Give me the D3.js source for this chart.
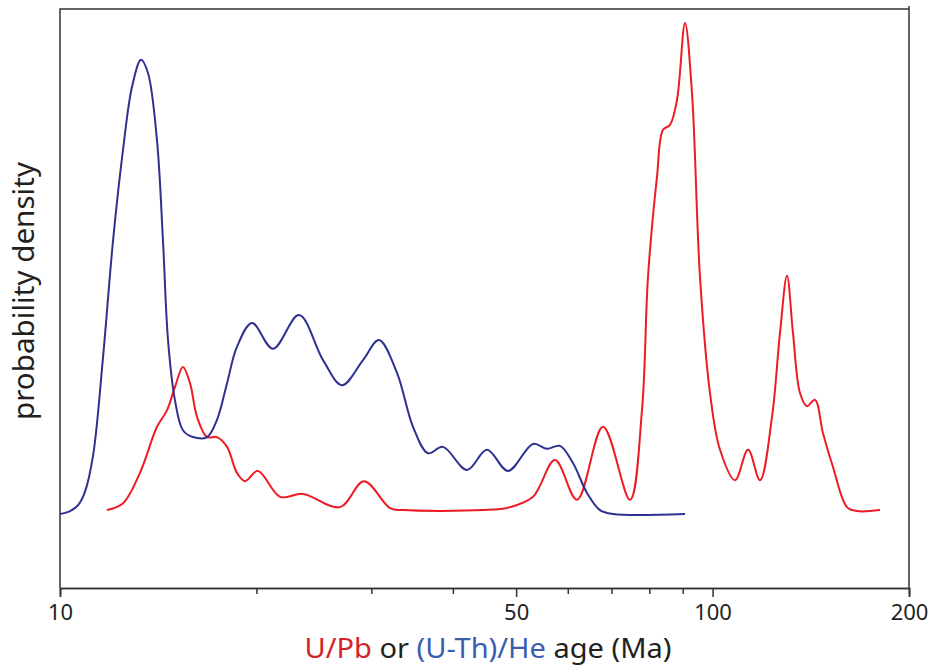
<!DOCTYPE html>
<html>
<head>
<meta charset="utf-8">
<script src="https://cdn.jsdelivr.net/npm/d3@7"></script>
<style>
  html, body { margin: 0; padding: 0; background: #fff; }
  #chart { width: 929px; height: 665px; }
  text { font-family: "Noto Sans", "Open Sans", sans-serif; fill: #231f20; }
</style>
</head>
<body>
<div id="chart"></div>
<script>
// (U-Th)/He ages, probability density (arbitrary units)
var heAge = [10.00, 10.36, 10.66, 10.92, 11.24, 11.64, 12.06, 12.49, 12.89, 13.31, 13.64,
  14.08, 14.38, 14.64, 15.00, 15.43, 15.99, 16.80, 17.40, 18.03, 18.67,
  19.69, 21.20, 23.24, 25.30, 27.05, 29.13, 30.82, 32.84, 34.75, 36.64,
  38.63, 42.04, 45.12, 48.59, 53.07, 55.76, 58.37, 61.11, 64.21, 67.22,
  70.38, 90.73];
var heDensity = [0, 0.006, 0.018, 0.045, 0.120, 0.320, 0.559, 0.743, 0.871, 0.927, 0.900,
  0.763, 0.559, 0.355, 0.233, 0.171, 0.157, 0.157, 0.192, 0.267, 0.341,
  0.390, 0.337, 0.406, 0.314, 0.263, 0.314, 0.355, 0.288, 0.178, 0.124,
  0.137, 0.090, 0.131, 0.088, 0.143, 0.133, 0.139, 0.104, 0.043, 0.008,
  0, 0];

// U/Pb ages, probability density (arbitrary units)
var pbAge = [11.80, 12.49, 13.26, 14.08, 14.59, 15.00, 15.43, 15.82, 16.22, 16.80,
  17.40, 18.03, 18.67, 19.21, 20.11, 21.74, 23.57, 26.86, 29.23, 32.04,
  33.54, 44.49, 48.93, 53.07, 57.35, 61.98, 67.94, 74.72, 77.96, 79.63,
  82.19, 83.96, 86.05, 88.21, 90.73, 93.00, 95.66, 99.10, 102.66, 108.24,
  113.32, 118.22, 123.33, 126.86, 130.03, 132.82, 136.14, 139.54, 143.53, 147.65,
  152.95, 160.70, 166.47, 180.53];
var pbDensity = [0.008, 0.022, 0.084, 0.178, 0.212, 0.259, 0.300, 0.267, 0.198, 0.157,
  0.157, 0.137, 0.084, 0.067, 0.088, 0.035, 0.041, 0.014, 0.067, 0.012,
  0.008, 0.008, 0.014, 0.035, 0.110, 0.029, 0.178, 0.029, 0.212, 0.484,
  0.688, 0.784, 0.794, 0.845, 1.002, 0.859, 0.484, 0.247, 0.131, 0.069,
  0.131, 0.069, 0.198, 0.369, 0.486, 0.369, 0.247, 0.220, 0.233, 0.165,
  0.096, 0.014, 0.006, 0.008];

var majorTicks = [10, 50, 100, 200];
var minorTicks = [20, 30, 40, 60, 70, 80, 90];

var colors = { pb: '#ed1c24', he: '#2e3192', pbText: '#d2232a', heText: '#3a5db0' };

var margin = { top: 9, right: 20, bottom: 77, left: 60 };
var width = 929, height = 665;

var svg = d3.select('#chart').append('svg')
    .attr('width', width)
    .attr('height', height);

var x = d3.scaleLog()
    .domain([10, 200])
    .range([margin.left, width - margin.right]);

var y = d3.scaleLinear()
    .domain([0, 1])
    .range([514, 24]);

var plotBottom = height - margin.bottom;

// Frame: left, top, right
svg.append('path')
    .attr('d', 'M' + margin.left + ',' + plotBottom + 'V' + margin.top +
      'H' + (width - margin.right) + 'M' + (width - margin.right) + ',' + (margin.top - 3) + 'V' + plotBottom)
    .attr('fill', 'none')
    .attr('stroke', '#333')
    .attr('stroke-width', 1.5);

// Minor ticks
svg.append('g')
    .attr('transform', 'translate(0,' + plotBottom + ')')
    .call(d3.axisBottom(x).tickValues(minorTicks).tickSize(6).tickFormat(''));

// Major ticks with labels
var majorAxis = svg.append('g')
    .attr('transform', 'translate(0,' + plotBottom + ')')
    .call(d3.axisBottom(x).tickValues(majorTicks).tickSize(9).tickPadding(7).tickFormat(d3.format('d')));

svg.selectAll('.domain, .tick line')
    .attr('stroke', '#333')
    .attr('stroke-width', 1.5);

majorAxis.selectAll('.tick text')
    .attr('font-size', 22)
    .attr('font-family', '"Noto Sans", sans-serif')
    .attr('fill', '#231f20');

// Curves
var line = d3.line()
    .x(function (d) { return x(d[0]); })
    .y(function (d) { return y(d[1]); })
    .curve(d3.curveCatmullRom.alpha(0.5));

svg.append('path')
    .datum(d3.zip(pbAge, pbDensity))
    .attr('d', line)
    .attr('fill', 'none')
    .attr('stroke', colors.pb)
    .attr('stroke-width', 2);

svg.append('path')
    .datum(d3.zip(heAge, heDensity))
    .attr('d', line)
    .attr('fill', 'none')
    .attr('stroke', colors.he)
    .attr('stroke-width', 2);

// Axis titles
var xTitle = svg.append('text')
    .attr('x', 488)
    .attr('y', 658)
    .attr('text-anchor', 'middle')
    .attr('font-size', 28)
    .attr('textLength', 367)
    .attr('lengthAdjust', 'spacingAndGlyphs');

xTitle.append('tspan').style('fill', colors.pbText).text('U/Pb');
xTitle.append('tspan').text(' or ');
xTitle.append('tspan').style('fill', colors.heText).text('(U-Th)/He');
xTitle.append('tspan').text(' age (Ma)');

svg.append('text')
    .attr('transform', 'translate(34,291) rotate(-90)')
    .attr('text-anchor', 'middle')
    .attr('font-size', 29)
    .attr('textLength', 258)
    .attr('lengthAdjust', 'spacingAndGlyphs')
    .text('probability density');
</script>
</body>
</html>
